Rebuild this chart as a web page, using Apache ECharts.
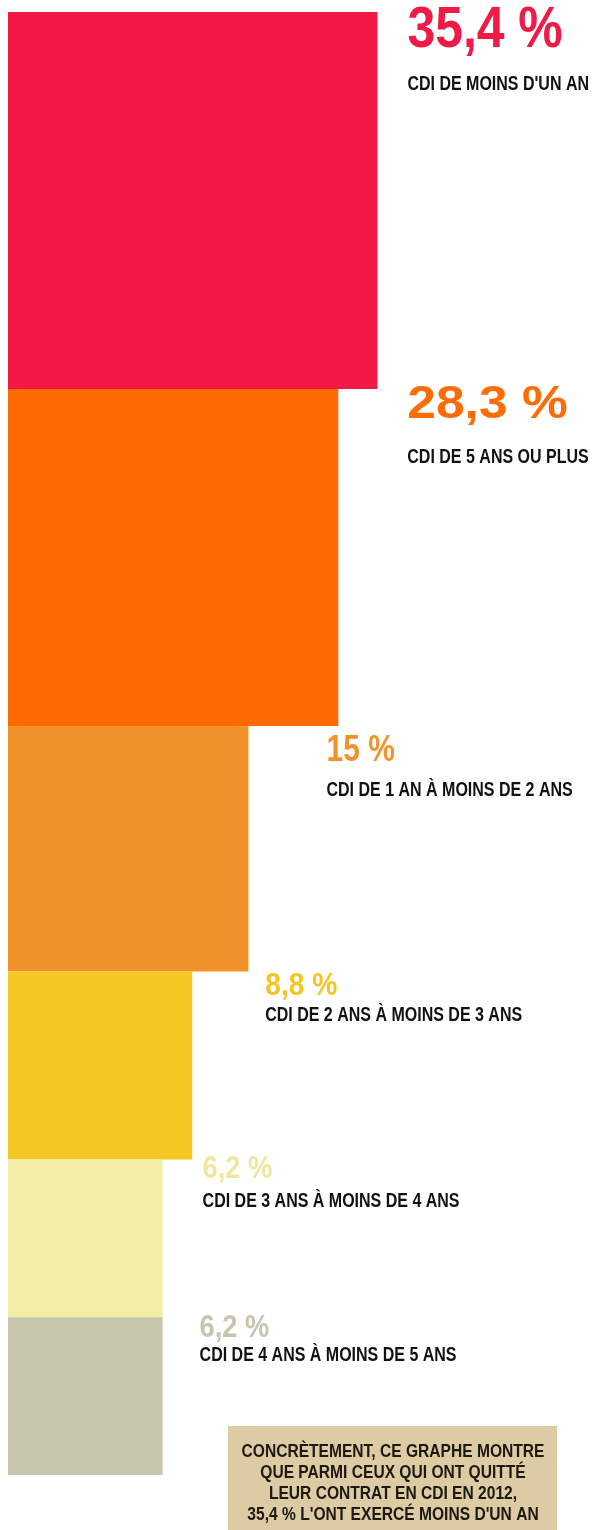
<!DOCTYPE html>
<html lang="fr">
<head>
<meta charset="utf-8">
<title>Durée des CDI rompus en 2012</title>
<script src="https://cdn.jsdelivr.net/npm/echarts@6/dist/echarts.min.js"></script>
<style>
  html, body { margin: 0; padding: 0; background: #ffffff; }
  #chart { width: 596px; height: 1530px; }
</style>
</head>
<body>
<div id="chart"></div>
<script>
// Contrats CDI quittés en 2012, répartis selon leur durée (en %)
const categories = [
  "CDI DE MOINS D'UN AN",
  "CDI DE 5 ANS OU PLUS",
  "CDI DE 1 AN À MOINS DE 2 ANS",
  "CDI DE 2 ANS À MOINS DE 3 ANS",
  "CDI DE 3 ANS À MOINS DE 4 ANS",
  "CDI DE 4 ANS À MOINS DE 5 ANS"
];
const values = [35.4, 28.3, 15, 8.8, 6.2, 6.2];

// Couleurs des carrés et des pourcentages
const barColors = ['#f31846', '#fe6a02', '#f2922a', '#f5c722', '#f4eda5', '#c9c6ae'];
const valueColors = ['#ef1a46', '#ff6c05', '#f3922b', '#f5c623', '#efe6a0', '#c8c5ac'];

// Mise en page des étiquettes (décalages depuis le coin haut-droit de chaque carré)
const labelDx = [30, 69, 78, 73, 40, 37];
const valueDy = [19, 16.5, 24.5, 14.5, 10.5, 11];
const captionDy = [72.5, 68.5, 64, 44, 42.5, 38.5];
const valueFontSize = [58, 46, 37, 31, 31, 31];
const valueStretch = [0.86, 1.12, 0.81, 0.91, 0.88, 0.88];
const captionStretch = 0.8;

const fmt = v => String(v).replace('.', ',');

// Chaque carré a une aire proportionnelle à la part : côté = racine de la valeur
const sides = values.map(v => Math.sqrt(v));
const starts = [];
let acc = 0;
sides.forEach(s => { starts.push(acc); acc += s; });
const totalSide = acc;

const seriesData = values.map((v, i) => [sides[i], starts[i], starts[i] + sides[i], v, i]);

const chart = echarts.init(document.getElementById('chart'), null, { renderer: 'canvas' });

chart.setOption({
  backgroundColor: '#ffffff',
  animation: false,
  grid: { left: 8, right: 0, top: 12, bottom: 55 },
  xAxis: { type: 'value', min: 0, max: 9.47, show: false },
  yAxis: { type: 'value', min: 0, max: totalSide, inverse: true, show: false },
  series: [{
    type: 'custom',
    clip: false,
    data: seriesData,
    renderItem: function (params, api) {
      const i = api.value(4);
      const topLeft = api.coord([0, api.value(1)]);
      const bottomRight = api.coord([api.value(0), api.value(2)]);
      const x0 = topLeft[0], y0 = topLeft[1];
      const x1 = bottomRight[0], y1 = bottomRight[1];
      const lx = x1 + labelDx[i];
      return {
        type: 'group',
        children: [
          {
            type: 'rect',
            shape: { x: x0, y: y0, width: x1 - x0, height: y1 - y0 },
            style: { fill: barColors[i] }
          },
          {
            type: 'text',
            x: lx,
            y: y0 + valueDy[i],
            scaleX: valueStretch[i],
            style: {
              x: 0, y: 0,
              text: fmt(api.value(3)) + ' %',
              font: 'bold ' + valueFontSize[i] + 'px "Liberation Sans", Arial, sans-serif',
              fill: valueColors[i],
              align: 'left',
              verticalAlign: 'middle'
            }
          },
          {
            type: 'text',
            x: lx,
            y: y0 + captionDy[i],
            scaleX: captionStretch,
            style: {
              x: 0, y: 0,
              text: categories[i],
              font: 'bold 20px "Liberation Sans", Arial, sans-serif',
              fill: '#111111',
              align: 'left',
              verticalAlign: 'middle'
            }
          }
        ]
      };
    }
  }],
  graphic: [
    {
      type: 'rect',
      shape: { x: 228, y: 1426, width: 329, height: 120 },
      style: { fill: '#dccba3' }
    },
    {
      type: 'text',
      x: 393,
      y: 1441,
      scaleX: 0.82,
      style: {
        x: 0, y: 0,
        text: [
          'CONCRÈTEMENT, CE GRAPHE MONTRE',
          'QUE PARMI CEUX QUI ONT QUITTÉ',
          'LEUR CONTRAT EN CDI EN 2012,',
          fmt(values[0]) + " % L'ONT EXERCÉ MOINS D'UN AN"
        ].join('\n'),
        font: 'bold 19px "Liberation Sans", Arial, sans-serif',
        lineHeight: 21,
        fill: '#1c1812',
        align: 'center',
        verticalAlign: 'top'
      }
    }
  ]
});
</script>
</body>
</html>
